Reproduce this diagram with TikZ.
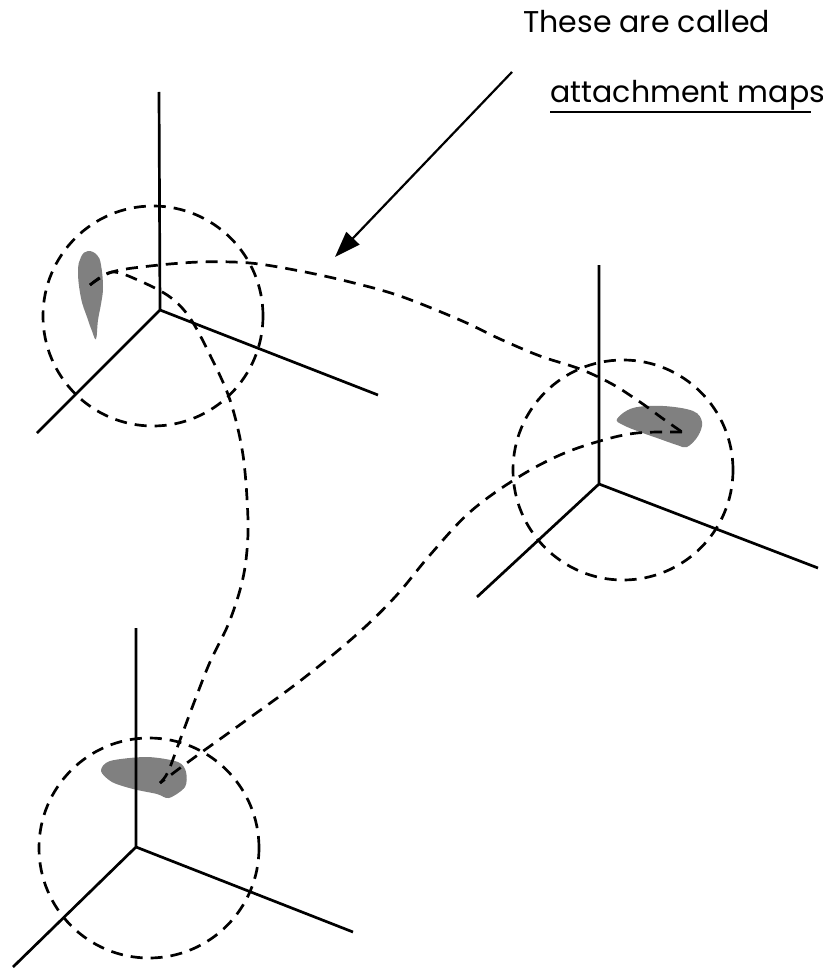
\documentclass[tikz,border=0pt]{standalone}
\usepackage{fontspec}
\newfontfamily\handfont{Poppins}
\usetikzlibrary{arrows.meta}
\definecolor{blobgray}{HTML}{808080}
\tikzset{
  axisline/.style={line width=1.35pt, line cap=butt},
  dashline/.style={line width=1.35pt, dash pattern=on 6pt off 4pt},
  blob/.style={fill=blobgray, draw=none},
  arrowline/.style={line width=1.1pt, -{Triangle[length=13pt,width=9pt]}},
  label/.style={anchor=base west, inner sep=0pt, font=\handfont\fontsize{15}{17}\selectfont}
}
\begin{document}
\begin{tikzpicture}[x=0.5pt,y=-0.5pt]
\useasboundingbox (0,0) rectangle (823,968);
% attach points and axis origins
\coordinate (b1) at (90,285);
\coordinate (b2) at (682,432);
\coordinate (b3) at (160,783);
\coordinate (o1) at (160,310);
\coordinate (o2) at (599,484);
\coordinate (o3) at (136,847);
% blobs
\fill[blob] plot[smooth cycle, tension=0.7] coordinates {(88,251) (97,255) (101,265) (103,287) (101,304) (98,320) (96,339) (92,331) (87,317) (81,298) (78,272) (81,257)};
\fill[blob] plot[smooth cycle, tension=0.6] coordinates {(617,419) (633,408) (663,406) (693,411) (702,422) (698,436) (687,447) (677,445) (657,438) (640,432) (623,425)};
\fill[blob] plot[smooth cycle, tension=0.5] coordinates {(101,771) (110,761) (147,757) (178,762) (186,772) (185,787) (169,798) (157,794) (133,789) (112,782)};
% axes
\draw[axisline] (o1) -- (159,92) (o1) -- (37,433) (o1) -- (378,395);
\draw[axisline] (o2) -- (599,265) (o2) -- (477,597) (o2) -- (818,568);
\draw[axisline] (o3) -- (136,628) (o3) -- (13,967) (o3) -- (353,932);
% neighbourhood circles
\draw[dashline] (153,316) circle[radius=55pt];
\draw[dashline] (623,470) circle[radius=55pt];
\draw[dashline] (149,848) circle[radius=55pt];
% attachment curves
\draw[dashline] plot[smooth, tension=0.55] coordinates {(b1) (112,272) (150,266) (200,262) (250,263) (300,271) (350,282) (400,296) (460,320) (500,339) (540,356) (580,369) (612,384) (640,402) (662,418) (b2)};
\draw[dashline] plot[smooth, tension=0.55] coordinates {(b1) (112,272) (140,281) (170,297) (190,318) (210,355) (230,400) (243,455) (248,520) (246,560) (240,590) (228,625) (210,662) (195,700) (180,740) (168,772) (b3)};
\draw[dashline] plot[smooth, tension=0.6] coordinates {(b2) (637,433) (600,441) (560,455) (517,478) (470,512) (430,555) (395,597) (355,636) (300,681) (241,724) (195,757) (b3)};
% text and arrow
\node[label] (t1) at (523,33) {These are called};
\node[label] (t2) at (550,103) {attachment maps};
\draw[line width=1pt] ([yshift=-4.5pt]t2.base west) -- ([yshift=-4.5pt,xshift=-7pt]t2.base east);
\coordinate (arrS) at (512,72);
\coordinate (arrE) at (335,257);
\draw[arrowline] (arrS) -- (arrE);
\end{tikzpicture}
\end{document}
